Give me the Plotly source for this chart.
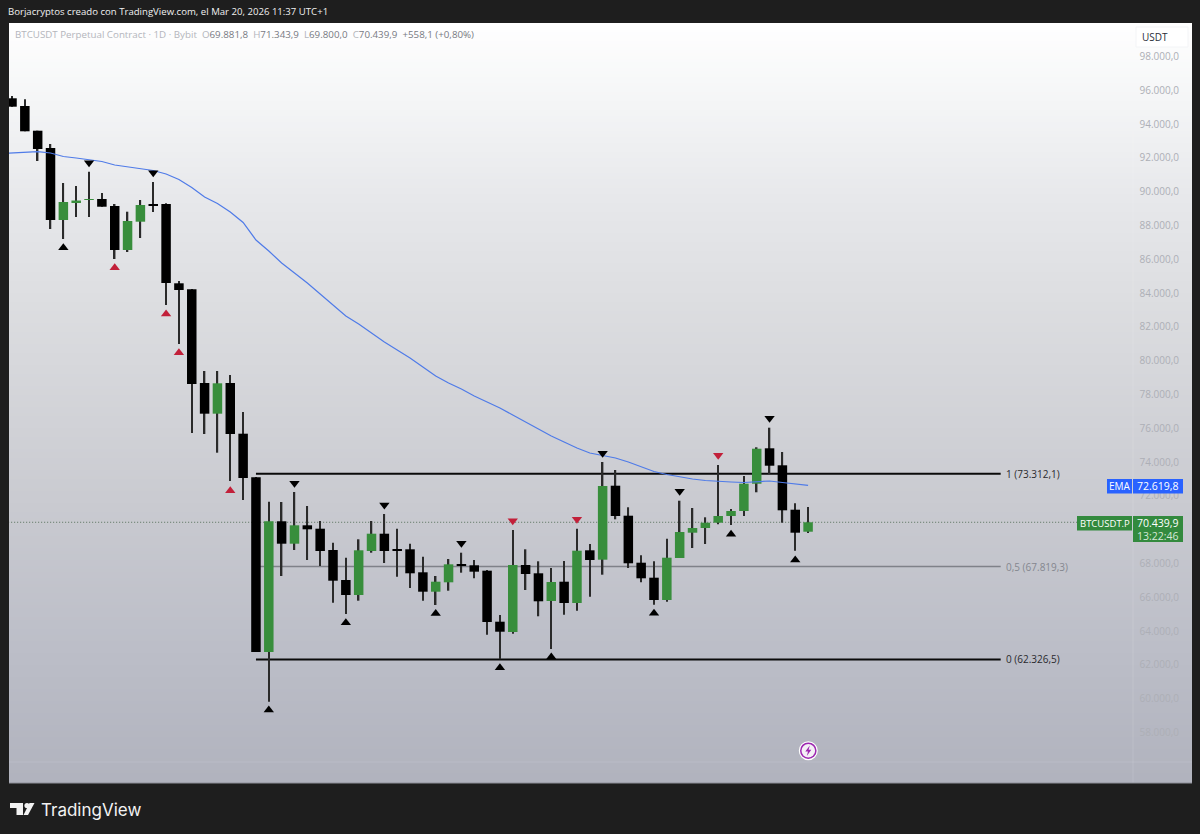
import numpy as np
import plotly.graph_objects as go

opens = [95527,95071,93609,92586,88326,89361,89509,89568,89154,86550,88225,89243,89272,84580,84225,78681,76865,78681,75681,73101,62764,70498,69172,70261,70060,68799,67024,66137,68740,69764,68841,68841,67480,66332,66888,67953,67894,67575,64557,63948,67912,67421,65782,66924,65663,68782,68226,72604,70829,68048,67161,65841,68326,69823,70101,70415,70811,71107,72722,74817,73811,71184,69881.8]
highs = [95663,95467,93609,92823,90515,90337,91184,89923,89272,88817,89509,90574,89314,84716,84243,79391,79391,79154,76965,73118,71658,71640,72231,71403,70515,69232,68344,69433,70515,70930,70060,69172,68403,67261,68267,68640,68208,67616,64953,69983,68841,68131,67734,68149,70060,69155,74006,73533,71327,68486,68131,69468,71716,71285,70734,73829,71225,73178,74876,76036,74598,71563,71343.9]
lows = [95030,93574,91817,87793,87201,88503,88503,89112,86018,86432,87261,88799,83296,80989,75722,75663,74557,72882,71758,62764,59823,67261,68799,68208,67853,65681,65013,65800,68640,68030,67220,66551,65800,65545,66391,67457,67125,63789,62332,63847,66433,64877,62942,64971,65208,66036,67338,70616,67734,66888,65563,65740,68326,68918,69155,70320,70279,70811,72214,73296,70415,68758,69800.0]
closes = [95030,93574,92527,88326,89391,89479,89538,89112,86550,88266,89213,89184,84598,84184,78622,76865,78663,75663,73060,62764,70498,69172,70261,70024,68740,66983,66137,68782,69764,68740,68758,67421,66332,66924,67953,67871,67516,64539,63965,67912,67379,65764,66906,65663,68758,68208,72586,70811,68013,67125,65841,68344,69865,70101,70415,70811,71107,72722,74793,73787,71148,69823,70439.9]

ema_values = [92260,92290,92349,92367,92290,92083,91994,91876,91787,91580,91462,91373,91255,91047,90722,90249,89687,89302,88799,88178,87142,86491,85781,85190,84598,83947,83296,82645,82172,81639,81107,80633,80160,79628,79095,78681,78326,77912,77557,77202,76787,76373,75959,75545,75190,74835,74539,74391,74243,74006,73711,73444,73267,73119,73001,72912,72853,72823,72794,72853,72882,72794,72705,72620]

black_up_idx = [4,20,26,33,38,42,50,56,61]
black_up_val = [86687,59332,64498,65042,61835,62468,65054,69729,68208]
red_up_idx = [8,12,13,17]
red_up_val = [85503,82764,80474,72308]
black_down_idx = [6,11,22,29,35,46,52,59]
black_down_val = [91716,91124,72746,71462,69196,74521,72273,76592]
red_down_idx = [39,44,55]
red_down_val = [70533,70616,74403]

fib_levels = [73312.1, 67819.3, 62326.5]
fib_labels = ["1 (73.312,1)", "0,5 (67.819,3)", "0 (62.326,5)"]
last_price = 70439.9
tick_vals = [98000 - 2000 * i for i in range(21) if 98000 - 2000 * i != 70000]
tick_text = [f"{v // 1000}.000,0" for v in tick_vals]

GREEN = "#388e3c"
FONT = "Open Sans"
L, R, T, B = 9, 1192, 23, 783
W, H = 1200, 834
def X(p): return (p - L) / (R - L)
def Y(p): return 1 - (p - T) / (B - T)

shapes, annots = [], []

# background gradient
stops_y = [23, 100, 200, 300, 500, 650, 783]
stops_r = [255, 245, 231, 221, 202, 188, 177]
stops_g = [255, 246, 232, 222, 203, 190, 179]
stops_b = [255, 247, 235, 225, 209, 200, 190]
for py in range(T, B, 3):
    c = [int(np.interp(py, stops_y, s)) for s in (stops_r, stops_g, stops_b)]
    shapes.append(dict(type="rect", xref="paper", yref="paper", layer="below", x0=0, x1=1,
                       y0=0, y1=Y(py), line_width=0, fillcolor=f"rgb({c[0]},{c[1]},{c[2]})"))
# faint scale separators
shapes.append(dict(type="line", xref="paper", yref="paper", layer="below", x0=X(1133), x1=X(1133), y0=0, y1=1,
                   line=dict(color="rgba(255,255,255,0.13)", width=1)))
shapes.append(dict(type="line", xref="paper", yref="paper", layer="below", x0=0, x1=1, y0=Y(762), y1=Y(762),
                   line=dict(color="rgba(255,255,255,0.13)", width=1)))
shapes.append(dict(type="line", xref="paper", yref="paper", x0=0, x1=1, y0=0, y1=0,
                   line=dict(color="#8d8f98", width=1)))

# last price dotted line
shapes.append(dict(type="line", xref="x", yref="y", layer="below", x0=-1, x1=83, y0=last_price, y1=last_price,
                   line=dict(color="#55705c", width=1, dash="1px,2px")))
# fib lines
for lv, col, w, txt, tc in zip(fib_levels, ["#0a0a0a", "#7f8189", "#0a0a0a"], [2, 1.5, 2], fib_labels,
                               ["#2a2a2e", "#85878f", "#2a2a2e"]):
    shapes.append(dict(type="line", xref="x", yref="y", layer="below", x0=19, x1=77, y0=lv, y1=lv,
                       line=dict(color=col, width=w)))
    annots.append(dict(xref="x", yref="y", x=77.25, y=lv, text=txt, showarrow=False, xanchor="left", yanchor="middle",
                       font=dict(family=FONT, size=10, color=tc)))

# price scale boxes
def box(x0, x1, y0, y1, col, line=None, path=None):
    shapes.append(dict(type="rect", xref="paper", yref="paper", x0=X(x0), x1=X(x1), y0=Y(y1), y1=Y(y0),
                       fillcolor=col, line=dict(color=line or col, width=1 if line else 0)))
def text(px, py, s, col, size=10, anchor="left", family=FONT):
    annots.append(dict(xref="paper", yref="paper", x=X(px), y=Y(py), text=s, showarrow=False, xanchor=anchor,
                       yanchor="middle", font=dict(family=family, size=size, color=col), borderpad=0, borderwidth=0))

box(1107, 1132, 479, 493.5, "#2962ff")
box(1133, 1183, 479, 493.5, "#2962ff")
text(1119.5, 486, "EMA", "#ffffff", 10, "center")
text(1158, 486, "72.619,8", "#ffffff", 10.5, "center")
box(1077, 1132, 516, 530.5, "#338a3e")
box(1133, 1183, 516, 542, "#338a3e")
text(1104.5, 523, "BTCUSDT.P", "#ffffff", 9.5, "center")
text(1158, 523, "70.439,9", "#ffffff", 10.5, "center")
text(1158, 535.5, "13:22:46", "#d5e8d7", 10.5, "center")

# USDT button
box(1136, 1188, 27, 47, "#ffffff", "#f3f4f6")
text(1142, 37, "USDT", "#2a2e39", 10)

# header / legend
text(8, 12, "Borjacryptos creado con TradingView.com, el Mar 20, 2026 11:37 UTC+1", "#f0f0f0", 9.6)
G, D = "#b4b6bc", "#787a82"
legend = (f"<span style='color:{G}'>BTCUSDT Perpetual Contract · 1D · Bybit  O</span><span style='color:{D}'>69.881,8</span>"
          f"<span style='color:{G}'>  H</span><span style='color:{D}'>71.343,9</span>"
          f"<span style='color:{G}'>  L</span><span style='color:{D}'>69.800,0</span>"
          f"<span style='color:{G}'>  C</span><span style='color:{D}'>70.439,9  +558,1 (+0,80%)</span>")
text(15, 34.5, legend, D, 9.75)

# TradingView logo
def poly(pts, col):
    d = "M " + " L ".join(f"{X(a):.5f},{Y(b):.5f}" for a, b in pts) + " Z"
    shapes.append(dict(type="path", xref="paper", yref="paper", path=d, fillcolor=col, line_width=0))
def circle(cx, cy, r, col):
    shapes.append(dict(type="circle", xref="paper", yref="paper", x0=X(cx - r), x1=X(cx + r), y0=Y(cy + r), y1=Y(cy - r),
                       fillcolor=col, line_width=0))
LOGO = "#f2f2f2"
poly([(10, 803), (23, 803), (23, 815), (16.5, 815), (16.5, 808), (10, 808)], LOGO)
circle(27, 805.5, 2.6, LOGO)
poly([(29.5, 803), (34.5, 803), (28, 815), (23.5, 815)], LOGO)
text(40.5, 809.5, "TradingView", LOGO, 17, family="Inter")

# bolt badge
circle(808.3, 750.7, 9.5, "#ffffff")
circle(808.3, 750.7, 8.3, "#9c27b0")
circle(808.3, 750.7, 6.8, "#f4f0f6")
poly([(809.8, 745.5), (805.3, 751.5), (808, 751.5), (806.8, 756), (811.3, 749.8), (808.6, 749.8)], "#9c27b0")

idx = list(range(len(opens)))
body_low = [min(o, c) for o, c in zip(opens, closes)]
body_size = [abs(c - o) for o, c in zip(opens, closes)]
body_color = [GREEN if c >= o else "#000000" for o, c in zip(opens, closes)]
wick_size = [h - l for h, l in zip(highs, lows)]

fig = go.Figure()
dark = "#2a2a2a"
fig.add_trace(go.Bar(x=idx, y=wick_size, base=lows, width=0.115, marker=dict(color=dark, line_width=0),
                     showlegend=False, hoverinfo="skip"))
fig.add_trace(go.Bar(x=idx, y=body_size, base=body_low, width=0.74, marker=dict(color=body_color, line_width=0),
                     showlegend=False, hoverinfo="skip"))
fig.add_trace(go.Scatter(x=list(range(-1, 63)), y=ema_values, mode="lines",
                         line=dict(color="#4f7be8", width=1.2), showlegend=False, hoverinfo="skip"))
for xs, ys, sym, col in [(black_up_idx, black_up_val, "triangle-up", "#000000"),
                         (red_up_idx, red_up_val, "triangle-up", "#c2203a"),
                         (black_down_idx, black_down_val, "triangle-down", "#000000"),
                         (red_down_idx, red_down_val, "triangle-down", "#c2203a")]:
    fig.add_trace(go.Scatter(x=xs, y=ys, mode="markers", marker=dict(symbol=sym, size=9, color=col, line_width=0),
                             showlegend=False, hoverinfo="skip"))

STEP = 12.84
fig.update_layout(
    width=W, height=H, autosize=False, barmode="overlay",
    margin=dict(l=L, r=W - R, t=T, b=H - B, pad=0),
    paper_bgcolor="#1e1e1e", plot_bgcolor="rgba(0,0,0,0)",
    shapes=shapes, annotations=annots, showlegend=False,
    xaxis=dict(range=[(L - 12) / STEP, (R - 12) / STEP], visible=False, fixedrange=True),
    yaxis=dict(range=[101343 - 59.17 * B, 101343 - 59.17 * T], side="right", tickvals=tick_vals, ticktext=tick_text,
               ticklabelposition="inside", ticks="", ticklabelstandoff=10, showgrid=False, zeroline=False, showline=False,
               tickfont=dict(family=FONT, size=10, color="#adafb6"), fixedrange=True),
)
fig.write_html("out.html", config=dict(displayModeBar=False),
               post_script="document.body.style.margin='0';document.body.style.background='#1e1e1e';")
